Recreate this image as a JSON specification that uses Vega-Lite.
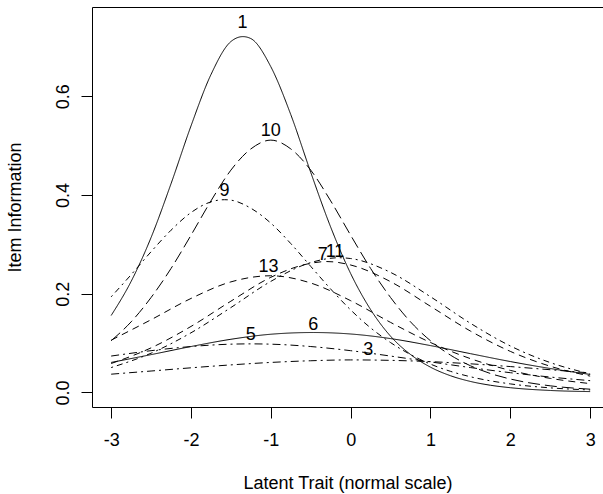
{
  "$schema": "https://vega.github.io/schema/vega-lite/v6.json",
  "autosize": "none",
  "padding": {"left": 92, "top": 7, "right": 0, "bottom": 87},
  "width": 511,
  "height": 400,
  "background": "white",
  "config": {"font": "Liberation Sans", "view": {"stroke": null}},
  "datasets": {
    "curves": [
      {"item":"1","theta":-3,"info":0.156},{"item":"1","theta":-2.75,"info":0.225},{"item":"1","theta":-2.5,"info":0.314},{"item":"1","theta":-2.25,"info":0.423},{"item":"1","theta":-2,"info":0.540},{"item":"1","theta":-1.75,"info":0.644},{"item":"1","theta":-1.5,"info":0.711},{"item":"1","theta":-1.35,"info":0.721},{"item":"1","theta":-1.25,"info":0.717},{"item":"1","theta":-1,"info":0.660},{"item":"1","theta":-0.75,"info":0.563},{"item":"1","theta":-0.5,"info":0.446},{"item":"1","theta":-0.25,"info":0.335},{"item":"1","theta":0,"info":0.241},{"item":"1","theta":0.25,"info":0.168},{"item":"1","theta":0.5,"info":0.114},{"item":"1","theta":0.75,"info":0.077},{"item":"1","theta":1,"info":0.0513},{"item":"1","theta":1.25,"info":0.034},{"item":"1","theta":1.5,"info":0.0224},{"item":"1","theta":1.75,"info":0.0147},{"item":"1","theta":2,"info":0.0097},{"item":"1","theta":2.5,"info":0.0041},{"item":"1","theta":3,"info":0.0018},
      {"item":"10","theta":-3,"info":0.1048},{"item":"10","theta":-2.75,"info":0.1431},{"item":"10","theta":-2.5,"info":0.1924},{"item":"10","theta":-2.25,"info":0.2513},{"item":"10","theta":-2,"info":0.3186},{"item":"10","theta":-1.75,"info":0.3881},{"item":"10","theta":-1.5,"info":0.4505},{"item":"10","theta":-1.25,"info":0.4935},{"item":"10","theta":-1,"info":0.5113},{"item":"10","theta":-0.75,"info":0.4935},{"item":"10","theta":-0.5,"info":0.4505},{"item":"10","theta":-0.25,"info":0.3881},{"item":"10","theta":0,"info":0.3186},{"item":"10","theta":0.25,"info":0.2513},{"item":"10","theta":0.5,"info":0.1924},{"item":"10","theta":0.75,"info":0.1431},{"item":"10","theta":1,"info":0.1048},{"item":"10","theta":1.25,"info":0.0757},{"item":"10","theta":1.5,"info":0.0542},{"item":"10","theta":1.75,"info":0.0385},{"item":"10","theta":2,"info":0.0273},{"item":"10","theta":2.5,"info":0.0135},{"item":"10","theta":3,"info":0.0067},
      {"item":"9","theta":-3,"info":0.1938},{"item":"9","theta":-2.75,"info":0.2386},{"item":"9","theta":-2.5,"info":0.2852},{"item":"9","theta":-2.25,"info":0.3288},{"item":"9","theta":-2,"info":0.3645},{"item":"9","theta":-1.75,"info":0.3862},{"item":"9","theta":-1.58,"info":0.3906},{"item":"9","theta":-1.5,"info":0.3897},{"item":"9","theta":-1.25,"info":0.3733},{"item":"9","theta":-1,"info":0.3431},{"item":"9","theta":-0.75,"info":0.3017},{"item":"9","theta":-0.5,"info":0.2555},{"item":"9","theta":-0.25,"info":0.2096},{"item":"9","theta":0,"info":0.1673},{"item":"9","theta":0.25,"info":0.1309},{"item":"9","theta":0.5,"info":0.1011},{"item":"9","theta":0.75,"info":0.0769},{"item":"9","theta":1,"info":0.0575},{"item":"9","theta":1.25,"info":0.0429},{"item":"9","theta":1.5,"info":0.0319},{"item":"9","theta":2,"info":0.0174},{"item":"9","theta":2.5,"info":0.0094},{"item":"9","theta":3,"info":0.0051},
      {"item":"13","theta":-3,"info":0.1060},{"item":"13","theta":-2.5,"info":0.1474},{"item":"13","theta":-2,"info":0.1905},{"item":"13","theta":-1.5,"info":0.2241},{"item":"13","theta":-1,"info":0.2365},{"item":"13","theta":-0.5,"info":0.2218},{"item":"13","theta":0,"info":0.1860},{"item":"13","theta":0.5,"info":0.1420},{"item":"13","theta":1,"info":0.1013},{"item":"13","theta":1.5,"info":0.0686},{"item":"13","theta":2,"info":0.0448},{"item":"13","theta":2.5,"info":0.0286},{"item":"13","theta":3,"info":0.0180},
      {"item":"7","theta":-3,"info":0.0587},{"item":"7","theta":-2.5,"info":0.0904},{"item":"7","theta":-2,"info":0.1338},{"item":"7","theta":-1.5,"info":0.1850},{"item":"7","theta":-1,"info":0.2333},{"item":"7","theta":-0.5,"info":0.2618},{"item":"7","theta":-0.3,"info":0.2653},{"item":"7","theta":0,"info":0.2583},{"item":"7","theta":0.5,"info":0.2245},{"item":"7","theta":1,"info":0.1746},{"item":"7","theta":1.5,"info":0.1245},{"item":"7","theta":2,"info":0.0833},{"item":"7","theta":2.5,"info":0.0532},{"item":"7","theta":3,"info":0.0332},
      {"item":"11","theta":-3,"info":0.0505},{"item":"11","theta":-2.5,"info":0.0796},{"item":"11","theta":-2,"info":0.1209},{"item":"11","theta":-1.5,"info":0.1721},{"item":"11","theta":-1,"info":0.2251},{"item":"11","theta":-0.5,"info":0.2632},{"item":"11","theta":-0.15,"info":0.2730},{"item":"11","theta":0,"info":0.2714},{"item":"11","theta":0.5,"info":0.2433},{"item":"11","theta":1,"info":0.1940},{"item":"11","theta":1.5,"info":0.1403},{"item":"11","theta":2,"info":0.0943},{"item":"11","theta":2.5,"info":0.0606},{"item":"11","theta":3,"info":0.0377},
      {"item":"6","theta":-3,"info":0.0609},{"item":"6","theta":-2.5,"info":0.0767},{"item":"6","theta":-2,"info":0.0931},{"item":"6","theta":-1.5,"info":0.1078},{"item":"6","theta":-1,"info":0.1180},{"item":"6","theta":-0.47,"info":0.1215},{"item":"6","theta":0,"info":0.1185},{"item":"6","theta":0.5,"info":0.1092},{"item":"6","theta":1,"info":0.0950},{"item":"6","theta":1.5,"info":0.0787},{"item":"6","theta":2,"info":0.0627},{"item":"6","theta":2.5,"info":0.0486},{"item":"6","theta":3,"info":0.0366},
      {"item":"5","theta":-3,"info":0.0738},{"item":"5","theta":-2.5,"info":0.0847},{"item":"5","theta":-2,"info":0.0931},{"item":"5","theta":-1.5,"info":0.0979},{"item":"5","theta":-1.25,"info":0.0985},{"item":"5","theta":-1,"info":0.0979},{"item":"5","theta":-0.5,"info":0.0931},{"item":"5","theta":0,"info":0.0847},{"item":"5","theta":0.5,"info":0.0738},{"item":"5","theta":1,"info":0.0620},{"item":"5","theta":1.5,"info":0.0505},{"item":"5","theta":2,"info":0.0401},{"item":"5","theta":2.5,"info":0.0313},{"item":"5","theta":3,"info":0.0240},
      {"item":"3","theta":-3,"info":0.0371},{"item":"3","theta":-2.5,"info":0.0435},{"item":"3","theta":-2,"info":0.0500},{"item":"3","theta":-1.5,"info":0.0559},{"item":"3","theta":-1,"info":0.0609},{"item":"3","theta":-0.5,"info":0.0643},{"item":"3","theta":0,"info":0.0660},{"item":"3","theta":0.5,"info":0.0651},{"item":"3","theta":1,"info":0.0625},{"item":"3","theta":1.5,"info":0.0581},{"item":"3","theta":2,"info":0.0525},{"item":"3","theta":2.5,"info":0.0461},{"item":"3","theta":3,"info":0.0396}
    ],
    "labels": [
      {"label":"1","theta":-1.355,"info":0.7495},
      {"label":"10","theta":-1.0,"info":0.530},
      {"label":"9","theta":-1.58,"info":0.409},
      {"label":"13","theta":-1.03,"info":0.255},
      {"label":"7","theta":-0.35,"info":0.279},
      {"label":"11","theta":-0.196,"info":0.2856},
      {"label":"5","theta":-1.25,"info":0.1166},
      {"label":"6","theta":-0.467,"info":0.137},
      {"label":"3","theta":0.22,"info":0.0862}
    ]
  },
  "resolve": {"axis": {"x": "independent"}},
  "layer": [
    {
      "data": {"name": "curves"},
      "mark": {"type": "line", "color": "black", "strokeWidth": 1, "interpolate": "monotone", "clip": true},
      "encoding": {
        "x": {"field": "theta", "type": "quantitative",
          "scale": {"domain": [-3.24, 3.161], "nice": false, "zero": false},
          "axis": {"orient": "bottom", "values": [-3,-2,-1,0,1,2,3], "labelExpr": "datum.value < 0 ? '-' + abs(datum.value) : '' + datum.value", "grid": false, "domainColor": "black", "tickColor": "black", "tickSize": 11, "labelFontSize": 18, "labelColor": "black", "labelPadding": 13, "labelFlush": false, "labelOverlap": false, "title": "Latent Trait (normal scale)", "titleFontSize": 18, "titleFontWeight": "normal", "titleColor": "black", "titlePadding": 25}},
        "y": {"field": "info", "type": "quantitative",
          "scale": {"domain": [-0.0294, 0.781], "nice": false, "zero": false},
          "axis": {"values": [0,0.2,0.4,0.6], "format": ".1f", "grid": false, "domainColor": "black", "tickColor": "black", "tickSize": 11, "labelAngle": -90, "labelAlign": "center", "labelBaseline": "bottom", "labelPadding": 9, "labelFontSize": 18, "labelColor": "black", "labelFlush": false, "labelOverlap": false, "title": "Item Information", "titleFontSize": 18, "titleFontWeight": "normal", "titleColor": "black", "titlePadding": 30}},
        "detail": {"field": "item", "type": "nominal"},
        "strokeDash": {"field": "item", "type": "nominal", "legend": null,
          "scale": {"domain": ["1","6","10","13","7","9","11","5","3"],
                    "range": [[1,0],[1,0],[12,5],[7,5],[7,5],[2,4,6,4],[2,4,6,4],[8,4,2,4],[8,4,2,4]]}}
      }
    },
    {
      "data": {"name": "labels"},
      "mark": {"type": "text", "fontSize": 18, "color": "black", "baseline": "middle", "align": "center"},
      "encoding": {
        "x": {"field": "theta", "type": "quantitative",
          "scale": {"domain": [-3.24, 3.161], "nice": false, "zero": false},
          "axis": {"orient": "top", "ticks": false, "labels": false, "grid": false, "domainColor": "black", "title": null}},
        "y": {"field": "info", "type": "quantitative"},
        "text": {"field": "label", "type": "nominal"}
      }
    }
  ]
}
